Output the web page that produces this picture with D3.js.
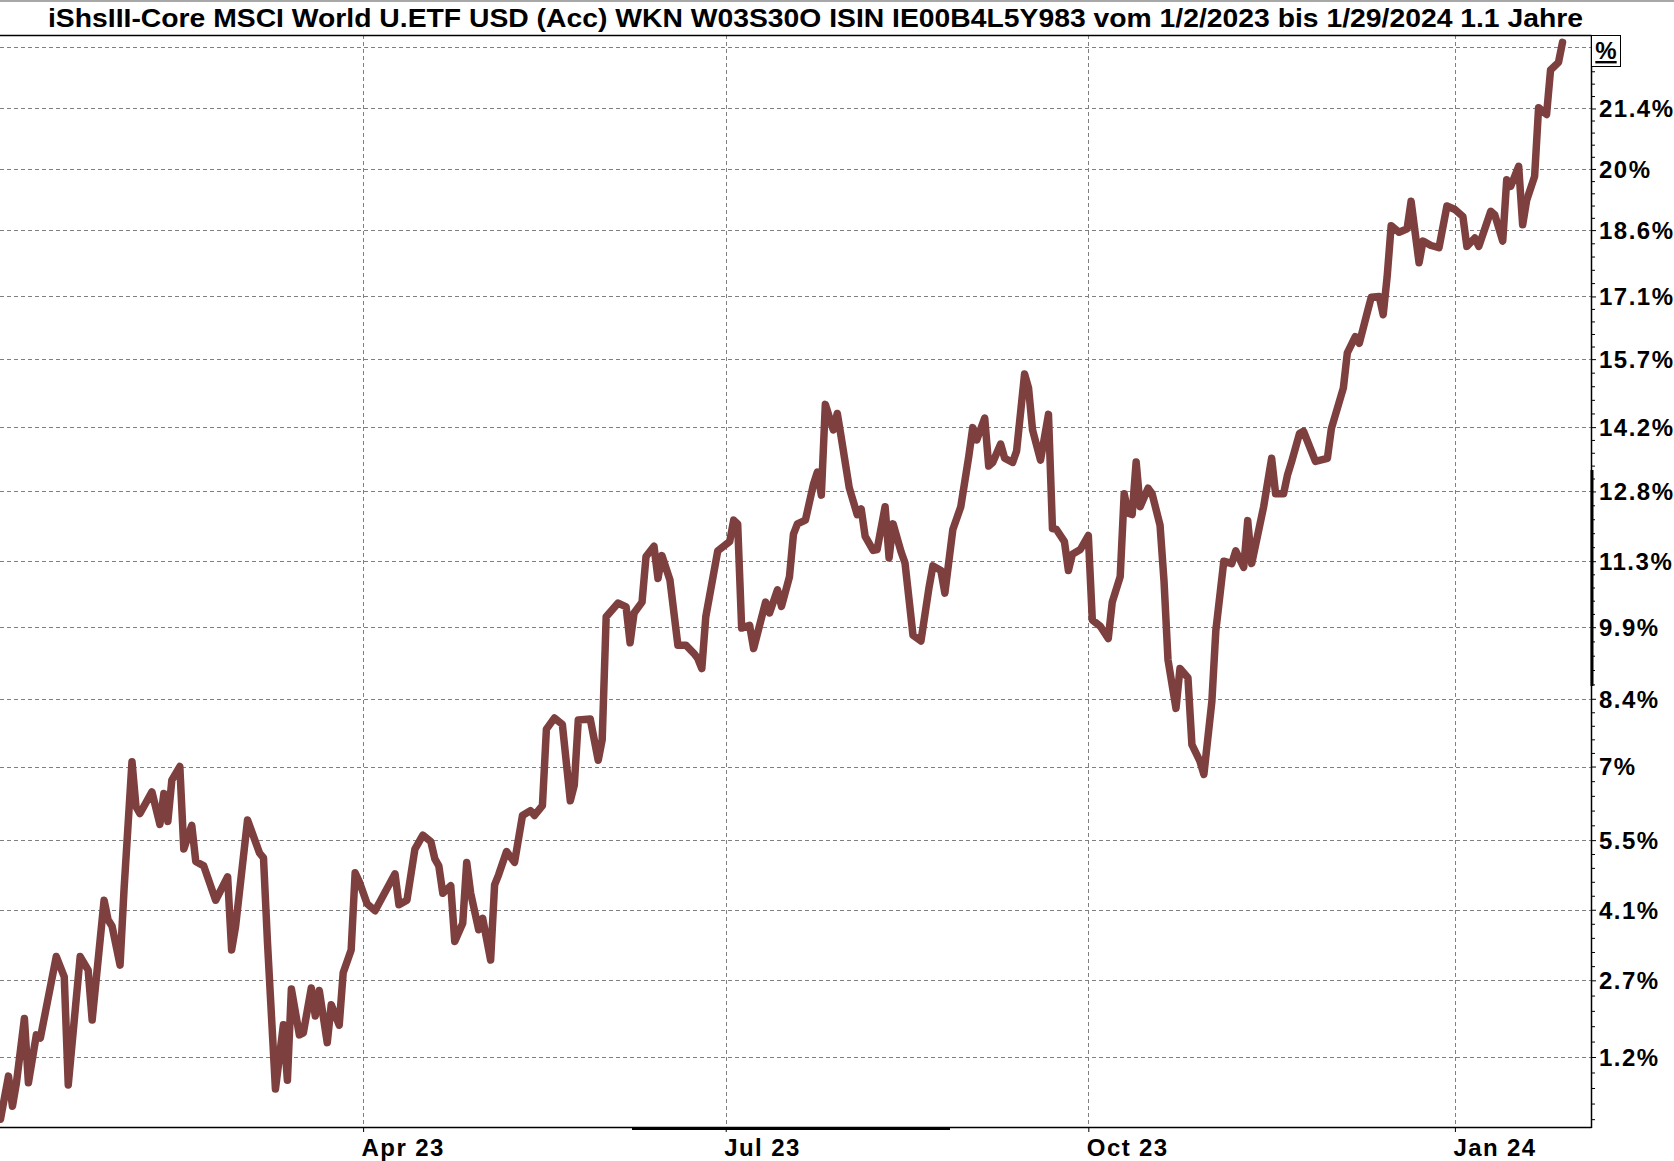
<!DOCTYPE html>
<html><head><meta charset="utf-8">
<script src="https://cdn.jsdelivr.net/npm/d3@7"></script>
<style>
body{margin:0;background:#fff}
svg{display:block}
text{font-family:"Liberation Sans",Arial,sans-serif;font-weight:bold;fill:#000}
</style>
</head><body>
<svg id="chart" width="1674" height="1161"></svg>
<script>
const titleText = "iShsIII-Core MSCI World U.ETF USD (Acc) WKN W03S30O ISIN IE00B4L5Y983 vom 1/2/2023 bis 1/29/2024 1.1 Jahre";

const dates = [
"2023-01-02","2023-01-04","2023-01-05","2023-01-06","2023-01-08","2023-01-09","2023-01-11","2023-01-12","2023-01-16","2023-01-18",
"2023-01-19","2023-01-22","2023-01-24","2023-01-25","2023-01-28","2023-01-29","2023-01-30","2023-02-01","2023-02-02","2023-02-04",
"2023-02-05","2023-02-06","2023-02-09","2023-02-11","2023-02-12","2023-02-13","2023-02-14","2023-02-16","2023-02-17","2023-02-19",
"2023-02-20","2023-02-22","2023-02-25","2023-02-28","2023-03-01","2023-03-02","2023-03-05","2023-03-08","2023-03-09","2023-03-10",
"2023-03-12","2023-03-14","2023-03-15","2023-03-16","2023-03-18","2023-03-19","2023-03-21","2023-03-22","2023-03-23","2023-03-25",
"2023-03-26","2023-03-28","2023-03-29","2023-03-31","2023-04-01","2023-04-02","2023-04-04","2023-04-06","2023-04-11","2023-04-12",
"2023-04-14","2023-04-16","2023-04-18","2023-04-20","2023-04-21","2023-04-22","2023-04-23","2023-04-25","2023-04-26","2023-04-28",
"2023-04-29","2023-04-30","2023-05-02","2023-05-03","2023-05-05","2023-05-06","2023-05-07","2023-05-09","2023-05-11","2023-05-13",
"2023-05-15","2023-05-16","2023-05-18","2023-05-19","2023-05-21","2023-05-23","2023-05-25","2023-05-26","2023-05-27","2023-05-30",
"2023-06-01","2023-06-02","2023-06-03","2023-06-06","2023-06-08","2023-06-09","2023-06-10","2023-06-12","2023-06-13","2023-06-15",
"2023-06-16","2023-06-17","2023-06-19","2023-06-21","2023-06-23","2023-06-25","2023-06-26","2023-06-27","2023-06-28","2023-07-01",
"2023-07-04","2023-07-05","2023-07-06","2023-07-07","2023-07-09","2023-07-10","2023-07-13","2023-07-14","2023-07-16","2023-07-17",
"2023-07-19","2023-07-20","2023-07-21","2023-07-23","2023-07-25","2023-07-26","2023-07-27","2023-07-28","2023-07-30","2023-07-31",
"2023-08-01","2023-08-03","2023-08-05","2023-08-06","2023-08-07","2023-08-09","2023-08-10","2023-08-12","2023-08-13","2023-08-14",
"2023-08-16","2023-08-17","2023-08-19","2023-08-21","2023-08-23","2023-08-24","2023-08-26","2023-08-27","2023-08-29","2023-08-31",
"2023-09-02","2023-09-03","2023-09-04","2023-09-06","2023-09-07","2023-09-08","2023-09-10","2023-09-11","2023-09-13","2023-09-14",
"2023-09-16","2023-09-17","2023-09-18","2023-09-20","2023-09-22","2023-09-23","2023-09-24","2023-09-26","2023-09-27","2023-09-28",
"2023-09-30","2023-10-02","2023-10-03","2023-10-05","2023-10-07","2023-10-08","2023-10-10","2023-10-11","2023-10-12","2023-10-13",
"2023-10-14","2023-10-15","2023-10-17","2023-10-18","2023-10-20","2023-10-21","2023-10-22","2023-10-24","2023-10-25","2023-10-27",
"2023-10-28","2023-10-30","2023-10-31","2023-11-02","2023-11-03","2023-11-04","2023-11-05","2023-11-07","2023-11-08","2023-11-10",
"2023-11-11","2023-11-12","2023-11-15","2023-11-17","2023-11-18","2023-11-20","2023-11-21","2023-11-22","2023-11-24","2023-11-25",
"2023-11-28","2023-12-01","2023-12-02","2023-12-05","2023-12-06","2023-12-08","2023-12-09","2023-12-11","2023-12-12","2023-12-14",
"2023-12-15","2023-12-16","2023-12-17","2023-12-19","2023-12-21","2023-12-22","2023-12-24","2023-12-25","2023-12-27","2023-12-29",
"2023-12-31","2024-01-02","2024-01-04","2024-01-05","2024-01-07","2024-01-08","2024-01-11","2024-01-12","2024-01-14","2024-01-15",
"2024-01-16","2024-01-18","2024-01-19","2024-01-20","2024-01-22","2024-01-23","2024-01-25","2024-01-26","2024-01-28","2024-01-29"
];

const values = [
0.00,0.83,0.25,0.70,1.95,0.70,1.63,1.57,3.17,2.77,
0.66,3.17,2.90,1.92,4.29,3.90,3.77,3.00,4.50,7.10,
6.18,6.04,6.48,5.82,6.45,5.88,6.72,7.00,5.32,5.80,
5.07,4.98,4.29,4.76,3.30,3.77,5.91,5.24,5.14,3.45,
0.58,1.83,0.75,2.53,1.63,1.67,2.55,2.00,2.50,1.48,
2.22,1.82,2.85,3.30,4.84,4.67,4.22,4.08,4.82,4.20,
4.29,5.32,5.60,5.47,5.12,4.98,4.43,4.58,3.47,3.83,
5.05,4.43,3.70,3.93,3.10,4.60,4.80,5.27,5.05,6.00,
6.10,6.00,6.20,7.77,8.00,7.87,6.30,6.62,7.96,7.98,
7.13,7.55,10.12,10.41,10.33,9.57,10.20,10.43,11.40,11.62,
10.93,11.42,10.90,9.52,9.52,9.35,9.24,9.03,10.12,11.52,
11.72,12.18,12.10,9.88,9.94,9.45,10.43,10.20,10.69,10.34,
10.97,11.88,12.10,12.18,12.95,13.22,12.72,14.70,14.14,14.50,
13.97,12.88,12.30,12.42,11.83,11.53,11.55,12.47,11.37,12.10,
11.50,11.26,9.73,9.61,10.73,11.20,11.10,10.62,11.98,12.47,
13.56,14.19,13.92,14.40,13.35,13.43,13.83,13.52,13.43,13.68,
15.37,15.06,14.14,13.48,14.48,12.00,11.98,11.72,11.10,11.45,
11.55,11.85,10.05,9.92,9.66,10.43,10.97,12.75,12.33,12.30,
13.44,12.47,12.87,12.75,12.07,10.87,9.21,8.20,9.03,8.84,
7.45,7.11,6.84,8.34,9.83,10.56,11.30,11.25,11.52,11.17,
12.17,11.25,12.47,13.52,12.75,12.75,13.16,13.44,14.06,14.11,
13.45,13.52,14.17,15.06,15.84,16.20,16.05,16.74,17.08,17.10,
16.69,17.55,18.70,18.55,18.63,19.26,17.86,18.35,18.25,18.20,
19.15,19.07,18.91,18.23,18.42,18.23,19.03,18.95,18.35,19.75,
19.60,20.06,18.72,19.28,19.83,21.42,21.26,22.30,22.48,22.95
];

const yTickValues = [1.2, 2.7, 4.1, 5.5, 7, 8.4, 9.9, 11.3, 12.8, 14.2, 15.7, 17.1, 18.6, 20, 21.4, 22.85];
const yTickLabels = ["1.2%","2.7%","4.1%","5.5%","7%","8.4%","9.9%","11.3%","12.8%","14.2%","15.7%","17.1%","18.6%","20%","21.4%",""];
const xTickDates = ["2023-04-03","2023-07-03","2023-10-02","2024-01-02"];
const xTickLabels = ["Apr 23","Jul 23","Oct 23","Jan 24"];
const unitLabel = "%";

const svg = d3.select("#chart");
const W = 1674, H = 1161;
const plot = {left: 0, right: 1591, top: 35, bottom: 1127};
const parse = d3.utcParse("%Y-%m-%d");

const x = d3.scaleUtc()
  .domain([parse("2023-01-02"), parse("2024-01-29")])
  .range([0.5, 1562.5]);
const y = d3.scaleLog()
  .domain([0.998499, 1.23124])
  .range([plot.bottom, plot.top]);
const toF = v => 1 + v / 100;

const series = dates.map((d, i) => ({date: parse(d), v: values[i]}));

// top faint line
svg.append("line").attr("x1",0).attr("x2",W).attr("y1",1).attr("y2",1)
  .attr("stroke","#a8a8a8").attr("stroke-width",2);

// title
svg.append("text")
  .attr("x", 815.5).attr("y", 26.5)
  .attr("text-anchor","middle")
  .attr("font-size", 26)
  .attr("textLength", 1535).attr("lengthAdjust","spacingAndGlyphs")
  .text(titleText);

// gridlines
const grid = svg.append("g");
grid.selectAll("line.h").data(yTickValues).join("line")
  .attr("x1", plot.left).attr("x2", plot.right)
  .attr("y1", d => Math.round(y(toF(d))) + 0.5).attr("y2", d => Math.round(y(toF(d))) + 0.5)
  .attr("stroke","#808080").attr("stroke-width",1).attr("stroke-dasharray","4,3");
grid.selectAll("line.v").data(xTickDates).join("line")
  .attr("x1", d => Math.round(x(parse(d))) + 0.5).attr("x2", d => Math.round(x(parse(d))) + 0.5)
  .attr("y1", plot.top).attr("y2", plot.bottom)
  .attr("stroke","#808080").attr("stroke-width",1).attr("stroke-dasharray","4,3");

// line
const line = d3.line().x(d => x(d.date)).y(d => y(toF(d.v)));
svg.append("path").datum(series)
  .attr("d", line)
  .attr("fill","none")
  .attr("stroke","#7e3f3f")
  .attr("stroke-width",7.5)
  .attr("stroke-linejoin","round")
  .attr("stroke-linecap","round");

// minor ticks on right axis
const minor = [];
const ext = [yTickValues[0] - (yTickValues[1]-yTickValues[0])].concat(yTickValues);
for (let i = 0; i < ext.length - 1; i++) {
  for (let k = 1; k < 5; k++) {
    const v = ext[i] + (ext[i+1]-ext[i]) * k / 5;
    if (v > -0.1) minor.push(toF(v));
  }
}
const yMinorAxis = d3.axisRight(y).tickValues(minor).tickSize(4).tickFormat("");
const gMin = svg.append("g").attr("transform",`translate(${plot.right},0)`).call(yMinorAxis);
gMin.select(".domain").remove();

// major right axis
const yAxis = d3.axisRight(y)
  .tickValues(yTickValues.map(toF))
  .tickFormat((d, i) => yTickLabels[i])
  .tickSize(5).tickPadding(3);
const gY = svg.append("g").attr("transform",`translate(${plot.right},0)`).call(yAxis);
gY.select(".domain").remove();
gY.selectAll("text").attr("font-size",24).attr("font-family",null)
  .style("letter-spacing","1.5px").attr("dy","0.35em");

// bottom axis
const xAxis = d3.axisBottom(x)
  .tickValues(xTickDates.map(parse))
  .tickFormat((d, i) => xTickLabels[i])
  .tickSize(5).tickPadding(7);
const gX = svg.append("g").attr("transform",`translate(0,${plot.bottom})`).call(xAxis);
gX.select(".domain").remove();
gX.selectAll("text").attr("font-size",24).attr("font-family",null)
  .attr("text-anchor","start").attr("dx",-2).style("letter-spacing","1.4px");
svg.selectAll(".tick line").attr("stroke","#000");

// frame lines
svg.append("line").attr("x1",0).attr("x2",plot.right+0.5).attr("y1",plot.top+0.5).attr("y2",plot.top+0.5)
  .attr("stroke","#000").attr("stroke-width",1.5);
svg.append("line").attr("x1",0).attr("x2",plot.right+0.5).attr("y1",plot.bottom+0.5).attr("y2",plot.bottom+0.5)
  .attr("stroke","#000").attr("stroke-width",1.5);
svg.append("line").attr("x1",plot.right+0.5).attr("x2",plot.right+0.5).attr("y1",plot.top).attr("y2",plot.bottom+1)
  .attr("stroke","#000").attr("stroke-width",1.5);
// thick indicator segments
svg.append("line").attr("x1",632).attr("x2",950).attr("y1",plot.bottom+1.5).attr("y2",plot.bottom+1.5)
  .attr("stroke","#000").attr("stroke-width",3);
svg.append("line").attr("x1",plot.right+1).attr("x2",plot.right+1).attr("y1",470).attr("y2",686)
  .attr("stroke","#000").attr("stroke-width",3);

// unit box
svg.append("rect").attr("x",plot.right+0.5).attr("y",plot.top+0.5).attr("width",29).attr("height",31)
  .attr("fill","#fff").attr("stroke","#000").attr("stroke-width",1);
svg.append("text").attr("x",plot.right+15).attr("y",plot.top+24)
  .attr("text-anchor","middle").attr("font-size",24)
  .style("text-decoration","underline")
  .text(unitLabel);
</script>
</body></html>
